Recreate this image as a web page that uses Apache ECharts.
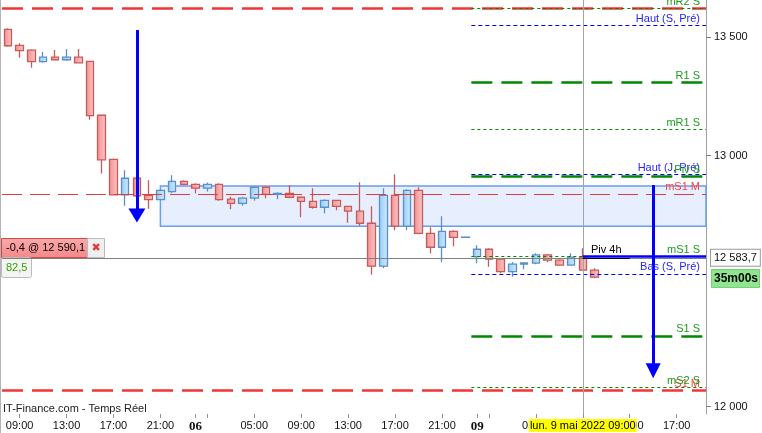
<!DOCTYPE html>
<html>
<head>
    <meta charset="UTF-8">
    <title>NQ 1h</title>
    <script src="https://cdn.jsdelivr.net/npm/echarts@6/dist/echarts.min.js"></script>
    <style>
        html, body { margin: 0; padding: 0; background: #fff; }
        #main { width: 762px; height: 433px; }
    </style>
</head>
<body>
<div id="main"></div>
<script>
    // bougies 1h, du jeudi 5 mai 08:00 au lundi 9 mai
    var categories = [
        '08:00','09:00','10:00','11:00','12:00','13:00','14:00','15:00','16:00','17:00','18:00','19:00','20:00','21:00','22:00','23:00',
        '06','01:00','02:00','03:00','04:00','05:00','06:00','07:00','08:00','09:00','10:00','11:00','12:00','13:00','14:00','15:00',
        '16:00','17:00','18:00','19:00','20:00','21:00','22:00','23:00',
        '09','01:00','02:00','03:00','04:00','05:00','06:00','07:00','08:00','09:00','10:00','11:00','12:00','13:00','14:00','15:00',
        '16:00','17:00','18:00','19:00'
    ];
    var open  = [13535,13466,13445,13396,13415,13404,13415,13397,13169,12985,12839,12907,12837,12819,12852,12894,
                 12882,12866,12882,12821,12804,12825,12870,12841,12845,12829,12812,12788,12816,12792,12772,12723,
                 12550,12837,12711,12857,12682,12626,12690,12666,12588,12618,12578,12528,12558,12562,12595,12574,
                 12554,12586,12534];
    var close = [13464,13443,13396,13415,13404,13415,13391,13167,12983,12839,12907,12835,12819,12857,12894,12882,
                 12866,12882,12819,12804,12825,12870,12841,12845,12829,12812,12788,12816,12792,12772,12723,12550,
                 12837,12711,12857,12682,12626,12690,12666,12667,12618,12578,12528,12558,12563,12595,12574,12554,
                 12586,12534,12506];
    var low   = [13460,13413,13370,13391,13404,13400,13389,13150,12926,12839,12794,12830,12782,12818,12845,12878,
                 12845,12852,12815,12780,12794,12815,12825,12821,12825,12747,12782,12764,12776,12725,12713,12516,
                 12542,12695,12695,12678,12602,12566,12630,12666,12562,12548,12522,12508,12538,12558,12566,12554,
                 12554,12534,12502];
    var high  = [13539,13475,13449,13437,13446,13450,13450,13397,13169,12989,12940,12916,12899,12863,12919,12899,
                 12886,12889,12886,12831,12831,12870,12870,12849,12879,12829,12866,12821,12816,12792,12890,12792,
                 12866,12923,12862,12870,12707,12751,12695,12667,12634,12622,12578,12567,12566,12602,12599,12578,
                 12602,12622,12542];

    var yTicks = [12000, 13000, 13500];

    // niveaux hebdo (S) à partir de lundi
    var weekNames  = ['mR2 S','Haut (S, Pré)','R1 S','mR1 S','Haut (J, Pré)','Piv S','mS1 S','Bas (S, Pré)','S1 S','mS2 S'];
    var weekValues = [13626, 13553, 13308, 13111, 12923, 12915, 12588, 12519, 12274, 12074];
    var weekKinds  = ['minor','hl','major','minor','hl','major','minor','hl','major','minor'];
    // niveaux mensuels (M), toute la largeur
    var monthNames  = ['', 'mS1 M', 'S1 M'];
    var monthValues = [13628, 12843, 12064];
    var monthKinds  = ['major','minor','major'];

    var band = [12711, 12875];
    var bandStart = 13;
    var piv4h = [12588, 12582];
    var lastPrice = 12583.7;
    var arrows = [[11, 13532, 12754], [55, 12879, 12138]];
    var crossIdx = 49;
    var crossLabel = 'lun. 9 mai 2022 09:00';

    var yMin = 11972, yMax = 13662;
    var font = 'Liberation Sans, Arial, sans-serif';

    function fmt(v) {
        return String(Math.round(v)).replace(/\B(?=(\d{3})+(?!\d))/g, ' ');
    }

    var styles = {
        minor: { color: '#008800', width: 1, type: [3, 3] },
        hl:    { color: '#0000ff', width: 1.2, type: [4, 3] },
        major: { color: '#008800', width: 2.5, type: [21, 9] }
    };
    var mstyles = {
        major: { color: '#f23535', width: 2.5, type: [21, 9] },
        minor: { color: '#e03c3c', width: 1.2, type: [20, 8] }
    };
    var labelColor = { minor: '#1c9c1c', hl: '#2626ff', major: '#1c9c1c' };

    function levelLine(x0, v, st, name, col) {
        return [
            {
                coord: [x0, v],
                lineStyle: { color: st.color, width: st.width, type: st.type },
                label: {
                    show: !!name, formatter: name, position: 'insideEndTop',
                    distance: [6, 1], color: col, fontSize: 11, fontFamily: font
                }
            },
            { coord: [59.5, v] }
        ];
    }

    var levels = [];
    for (var i = 0; i < monthValues.length; i++) {
        levels.push(levelLine(-0.5, monthValues[i], mstyles[monthKinds[i]], monthNames[i], '#ff4040'));
    }
    for (var j = 0; j < weekValues.length; j++) {
        levels.push(levelLine(39.5, weekValues[j], styles[weekKinds[j]], weekNames[j], labelColor[weekKinds[j]]));
    }

    var overlay = [];
    // prix courant
    overlay.push([
        {
            coord: [-0.5, lastPrice],
            lineStyle: { color: '#808080', width: 1, type: 'solid' },
            label: {
                show: true, position: 'end', distance: 5, formatter: '12 583,7',
                color: '#111', fontSize: 11, fontFamily: font,
                backgroundColor: '#fff', borderColor: '#999', borderWidth: 1, padding: [3, 3, 2, 3]
            }
        },
        { coord: [59.5, lastPrice] }
    ]);
    // réticule
    overlay.push([
        {
            coord: [crossIdx, yMin],
            lineStyle: { color: '#a4a4a4', width: 1, type: 'solid' },
            label: {
                show: true, position: 'start', distance: 5, formatter: crossLabel,
                color: '#000', fontSize: 11, fontFamily: font,
                backgroundColor: '#ffff00', padding: [1, 1, 1, 1]
            }
        },
        { coord: [crossIdx, yMax] }
    ]);
    // pivot 4h
    overlay.push([
        { coord: [crossIdx, piv4h[1]], lineStyle: { color: '#000', width: 1.2, type: 'solid' },
          label: { show: true, position: 'insideMiddleTop', distance: 3, formatter: 'Piv 4h', color: '#000', fontSize: 11, fontFamily: font } },
        { coord: [crossIdx + 4, piv4h[1]] }
    ]);
    overlay.push([
        { coord: [crossIdx, piv4h[0]], lineStyle: { color: '#0000ff', width: 2.5, type: 'solid' }, label: { show: false } },
        { coord: [59.5, piv4h[0]] }
    ]);

    var arrowLines = arrows.map(function (a, k) {
        return [
            { coord: [a[0], a[1]], symbol: 'none', symbolSize: k === 0 ? [17, 14] : [15, 15],
              lineStyle: { color: '#0000ff', width: 3, type: 'solid' }, label: { show: false } },
            { coord: [a[0], a[2]], symbol: 'triangle', symbolSize: k === 0 ? [17, 14] : [15, 15] }
        ];
    });

    var candles = open.map(function (o, k) {
        return [o, close[k], low[k], high[k]];
    });

    function grad(c1, c2) {
        return new echarts.graphic.LinearGradient(0, 0, 1, 0, [
            { offset: 0, color: c1 }, { offset: 1, color: c2 }
        ]);
    }

    var myChart = echarts.init(document.getElementById('main'));

    var option = {
        animation: false,
        grid: { left: 2, right: 56, top: 0, bottom: 19 },
        xAxis: [
            {
                type: 'category',
                data: categories,
                boundaryGap: true,
                axisLine: { show: false },
                axisTick: {
                    show: true, alignWithLabel: true, length: 4,
                    lineStyle: { color: '#909090' },
                    interval: function (idx, val) {
                        return val.length === 2 || ['01:00','05:00','09:00','13:00','17:00','21:00'].indexOf(val) >= 0;
                    }
                },
                axisLabel: {
                    margin: 6, color: '#111', fontSize: 11, fontFamily: font,
                    interval: function (idx, val) {
                        return val.length === 2 || ['05:00','09:00','13:00','17:00','21:00'].indexOf(val) >= 0;
                    },
                    formatter: function (val) {
                        return val.length === 2 ? '{d|' + val + '}' : val;
                    },
                    rich: { d: { fontWeight: 'bold', fontSize: 13, fontFamily: 'Liberation Serif, serif', color: '#111' } }
                },
                splitLine: { show: false }
            },
            { type: 'value', min: -0.5, max: 59.5, show: false }
        ],
        yAxis: {
            type: 'log', logBase: 10, min: yMin, max: yMax,
            position: 'right',
            axisLine: { show: true, onZero: false, lineStyle: { color: '#a0a0a0' } },
            axisTick: { show: true, length: 5, lineStyle: { color: '#808080' }, customValues: yTicks },
            axisLabel: { customValues: yTicks, formatter: fmt, margin: 8, color: '#111', fontSize: 11, fontFamily: font },
            splitLine: { show: false }
        },
        series: [
            {
                name: 'zone', type: 'line', data: [], xAxisIndex: 1, z: 1,
                markArea: {
                    silent: true,
                    itemStyle: { color: 'rgba(215,228,255,0.6)', borderColor: '#6b9cf0', borderWidth: 1.5 },
                    data: [[{ coord: [bandStart, band[1]] }, { coord: [59.5, band[0]] }]]
                }
            },
            {
                name: 'niveaux', type: 'line', data: [], xAxisIndex: 1, z: 1,
                markLine: { silent: true, symbol: 'none', animation: false, data: levels }
            },
            {
                name: 'NQ', type: 'candlestick', data: candles, z: 3,
                barWidth: 8,
                itemStyle: {
                    color: grad('#92ccf5', '#d2ecfc'),
                    color0: grad('#f38f8f', '#fbc8c8'),
                    borderColor: '#5b8fca',
                    borderColor0: '#c85a5a',
                    borderWidth: 1.3
                }
            },
            {
                name: 'repères', type: 'line', data: [], xAxisIndex: 1, z: 4,
                markLine: { silent: true, symbol: 'none', animation: false, data: overlay }
            },
            {
                name: 'flèches', type: 'line', data: [], xAxisIndex: 1, z: 5,
                markLine: { silent: true, animation: false, data: arrowLines,
                            itemStyle: { color: '#0000ff' } }
            }
        ],
        graphic: [
            { type: 'line', shape: { x1: 0.5, y1: 0, x2: 0.5, y2: 433 }, style: { stroke: '#b4b4b4', lineWidth: 1 } },
            { type: 'rect', shape: { x: 1.5, y: 238.5, width: 86, height: 19 },
              style: { fill: { type: 'linear', x: 0, y: 0, x2: 0, y2: 1, colorStops: [{ offset: 0, color: '#fcaaaa' }, { offset: 1, color: '#f58888' }] }, stroke: '#c84a4a' } },
            { type: 'text', x: 6, y: 248, style: { text: '-0,4 @ 12 590,1', fill: '#000', font: '11px Liberation Sans', verticalAlign: 'middle' } },
            { type: 'rect', shape: { x: 87.5, y: 238.5, width: 17, height: 19 }, style: { fill: '#efefef', stroke: '#bbbbbb' } },
            { type: 'text', x: 96, y: 248, style: { text: '✖', fill: '#e03a3a', font: 'bold 11px DejaVu Sans', align: 'center', verticalAlign: 'middle' } },
            { type: 'rect', shape: { x: 1.5, y: 257.5, width: 30, height: 20, r: 2 }, style: { fill: '#f4f4f4', stroke: '#bbbbbb' } },
            { type: 'text', x: 6, y: 268, style: { text: '82,5', fill: '#3aa000', font: '11px Liberation Sans', verticalAlign: 'middle' } },
            { type: 'rect', shape: { x: 711.5, y: 269.5, width: 48, height: 18 }, style: { fill: '#8ee68e', stroke: '#7acb7a' } },
            { type: 'text', x: 736, y: 279, style: { text: '35m00s', fill: '#000', font: 'bold 12px Liberation Sans', align: 'center', verticalAlign: 'middle' } },
            { type: 'text', x: 3, y: 409, style: { text: 'IT-Finance.com - Temps Réel', fill: '#222', font: '11px Liberation Sans', verticalAlign: 'middle' } }
        ]
    };

    myChart.setOption(option);
</script>
</body>
</html>
